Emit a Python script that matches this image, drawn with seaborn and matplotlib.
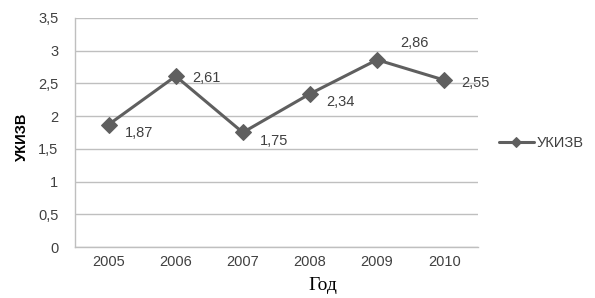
import pandas as pd
import matplotlib
matplotlib.use("Agg")
import matplotlib.pyplot as plt
import matplotlib.ticker as ticker
import seaborn as sns

# Data
years = ["2005", "2006", "2007", "2008", "2009", "2010"]
values = [1.87, 2.61, 1.75, 2.34, 2.86, 2.55]
value_labels = ["1,87", "2,61", "1,75", "2,34", "2,86", "2,55"]
series_name = "УКИЗВ"

df = pd.DataFrame({"year": years, "value": values})

sns.set_theme(style="white")
plt.rcParams["font.family"] = ["Liberation Sans", "DejaVu Sans"]

line_color = "#5f5f5f"
grid_color = "#bfbfbf"
text_color = "#404040"

fig = plt.figure(figsize=(5.95, 2.98), dpi=100)
ax = fig.add_axes([0.126, 0.171, 0.677, 0.769])

sns.lineplot(data=df, x="year", y="value", ax=ax, color=line_color,
             linewidth=2.2, marker="D", markersize=8, markeredgecolor=line_color,
             label=series_name, sort=False)

# value labels, 2009 sits above its point
offsets = [(12, -6), (12, -1), (12, -6), (12, -6), (17, 12), (12, -2)]
for i, (v, lab) in enumerate(zip(values, value_labels)):
    ax.annotate(lab, (i, v), xytext=offsets[i], textcoords="offset points",
                ha="left", va="center", fontsize=10.5, color=text_color)

ax.set_ylim(0, 3.5)
ax.set_xlim(-0.5, 5.5)
ax.set_yticks([0, 0.5, 1, 1.5, 2, 2.5, 3, 3.5])
ax.yaxis.set_major_formatter(ticker.FuncFormatter(
    lambda x, pos: f"{x:g}".replace(".", ",")))
ax.grid(axis="y", color=grid_color, linewidth=1)
ax.set_axisbelow(True)

for side in ["top", "right"]:
    ax.spines[side].set_visible(False)
for side in ["left", "bottom"]:
    ax.spines[side].set_color(grid_color)
    ax.spines[side].set_linewidth(1)

ax.tick_params(axis="both", length=0, labelsize=10.5, labelcolor=text_color)
ax.tick_params(axis="y", pad=12)
ax.tick_params(axis="x", pad=6)

ax.set_ylabel(series_name, fontsize=10.5, fontweight="bold", color="black")
ax.yaxis.set_label_coords(-0.115, 0.48)
ax.set_xlabel("Год", fontsize=14, family=["Liberation Serif", "DejaVu Serif"], color="black")
ax.xaxis.set_label_coords(0.615, -0.13)

ax.legend(loc="center left", bbox_to_anchor=(1.02, 0.455), frameon=False,
          fontsize=10.5, handlelength=2.4, handletextpad=0.2, labelcolor=text_color,
          markerscale=0.7)

plt.savefig("out.png", dpi=100)
